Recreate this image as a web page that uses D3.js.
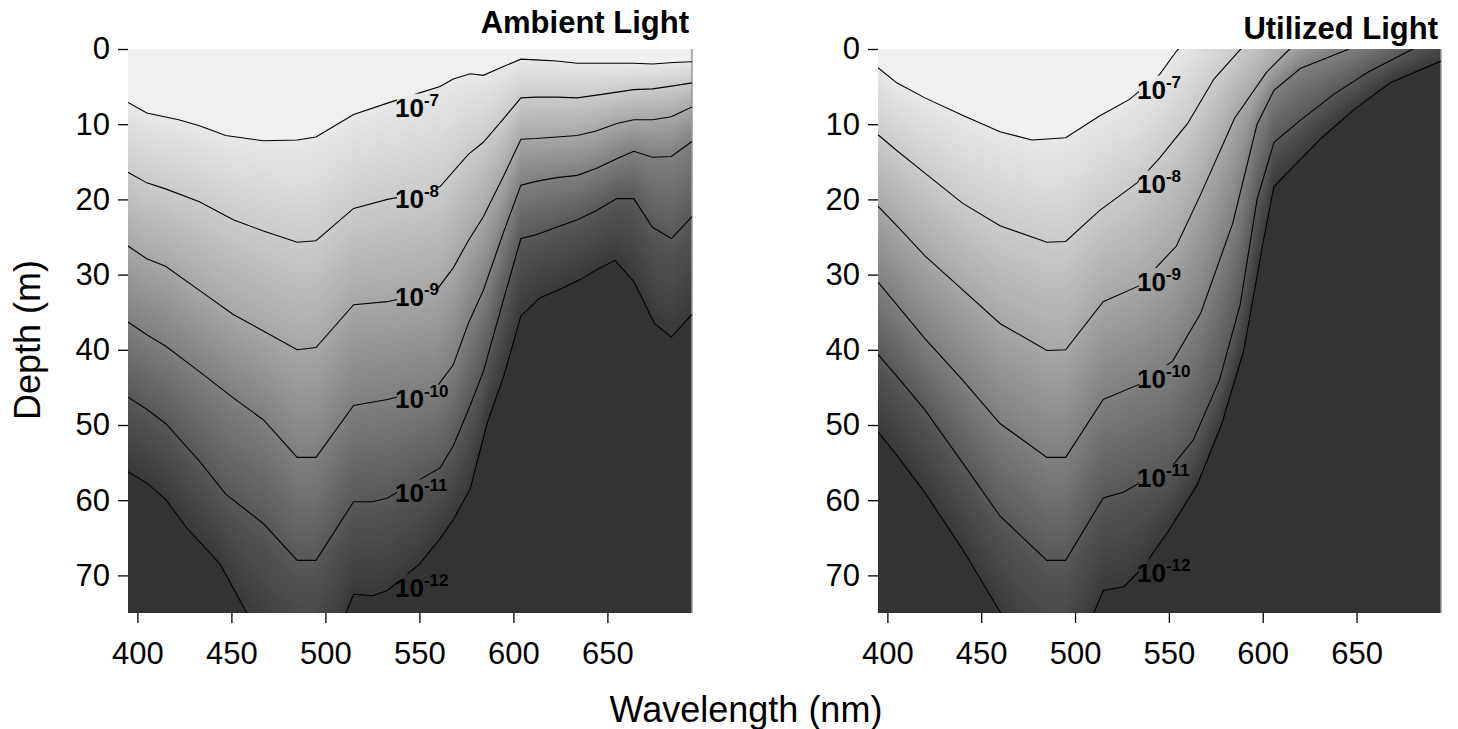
<!DOCTYPE html>
<html>
<head>
<meta charset="utf-8">
<script src="https://cdn.jsdelivr.net/npm/d3@7"></script>
<style>
body { margin: 0; background: #fff; }
text { font-family: "Liberation Sans", Arial, sans-serif; }
</style>
</head>
<body>
<svg id="chart" width="1458" height="729"></svg>
<script>
/*
**************************** DATA ****************************
*/
// contour levels, log10 of irradiance
var levels = [-7, -8, -9, -10, -11, -12];
var xTicks = [400, 450, 500, 550, 600, 650];
var yTicks = [0, 10, 20, 30, 40, 50, 60, 70];

// Ambient light: depth (m) of each contour line, [wavelength nm, depth m]
var amb7 = [[395,7.1],[405,8.5],[422,9.4],[433,10.2],[447,11.5],[467,12.2],[485,12.1],[495,11.7],[515,8.7],[533,7.2],[548,6.0],[561,5.0],[568,4.0],[577,3.3],[584,3.5],[595,2.3],[604,1.35],[612,1.45],[623,1.6],[634,1.9],[648,1.9],[664,1.9],[674,2.0],[685,1.8],[695,1.7]];
var amb8 = [[395,16.4],[405,17.8],[415,18.6],[433,20.3],[451,22.7],[467,24.2],[485,25.7],[495,25.5],[515,21.2],[533,20.0],[548,19.3],[561,18.3],[576,14.0],[584,12.4],[595,9.2],[604,6.5],[612,6.4],[623,6.4],[634,6.5],[648,6.0],[664,5.4],[674,5.3],[685,4.9],[695,4.5]];
var amb9 = [[395,26.2],[405,27.9],[415,28.9],[433,32.1],[451,35.3],[467,37.5],[485,40.0],[495,39.7],[515,34.0],[533,33.6],[559,32.1],[568,29.1],[576,25.5],[584,22.3],[595,16.8],[604,12.0],[612,11.9],[623,11.7],[634,11.5],[644,10.9],[655,9.9],[664,9.4],[674,9.4],[684,9.0],[695,7.7]];
var amb10 = [[395,36.3],[405,38.0],[415,39.5],[433,42.9],[451,46.4],[467,49.3],[485,54.3],[495,54.3],[515,47.4],[533,46.6],[559,45.0],[568,42.0],[576,36.5],[584,32.1],[595,24.2],[604,18.1],[612,17.6],[623,17.1],[634,16.8],[644,15.9],[655,14.6],[664,13.6],[674,14.4],[684,14.3],[695,12.3]];
var amb11 = [[395,46.3],[405,47.9],[415,49.8],[433,54.8],[447,59.2],[467,63.1],[485,68.0],[495,68.0],[515,60.2],[525,60.2],[533,59.7],[561,55.7],[568,52.8],[577,47.4],[584,42.9],[595,33.1],[604,25.2],[612,24.7],[623,23.7],[634,22.7],[644,21.5],[655,19.9],[664,19.9],[674,23.7],[684,25.2],[695,22.3]];
var amb12 = [[395,56.2],[405,57.7],[415,59.9],[426,63.6],[444,68.5],[458,74.9],[470,79],[485,82],[495,82],[505,78],[511,74.9],[515,72.5],[525,72.7],[533,72.0],[550,68.5],[561,65.1],[568,62.6],[577,58.5],[586,49.8],[595,43.4],[604,35.5],[614,33.1],[625,31.9],[636,30.6],[644,29.4],[654,28.1],[664,30.9],[675,36.5],[684,38.3],[695,35.3]];

// Utilized light
var util7 = [[395,2.5],[405,4.5],[420,6.5],[440,8.8],[460,11.0],[477,12.1],[495,11.8],[513,8.9],[529,6.7],[545,3.4],[554,0.3],[570,-4],[600,-10],[695,-25]];
var util8 = [[395,11.4],[405,13.5],[420,16.5],[440,20.5],[460,23.5],[485,25.7],[495,25.6],[513,21.5],[533,17.8],[545,14.5],[560,9.9],[574,4.0],[588,0.1],[610,-5],[695,-20]];
var util9 = [[395,20.9],[405,23.5],[420,27.5],[440,32.0],[460,36.5],[485,40.1],[495,40.0],[515,33.6],[534,31.5],[554,26.2],[567,19.3],[585,9.2],[602,3.1],[614,0.1],[640,-5],[695,-15]];
var util10 = [[395,31.0],[405,34.0],[420,38.5],[440,44.0],[460,49.8],[485,54.3],[495,54.3],[515,46.6],[535,44.5],[552,41.5],[567,35.1],[584,23.2],[597,10.0],[606,5.5],[620,2.6],[645,0.1],[670,-3],[695,-6]];
var util11 = [[395,40.6],[405,43.5],[420,48.0],[440,55.0],[460,62.1],[485,68.0],[495,68.0],[515,59.7],[526,58.9],[535,57.6],[550,56.0],[563,52.0],[577,44.0],[588,34.0],[597,20.0],[606,12.4],[620,9.5],[638,6.0],[656,3.1],[680,0],[695,-2]];
var util12 = [[395,50.9],[405,54.0],[420,59.0],[440,66.5],[458,74.0],[470,79],[485,82],[495,82],[505,78],[510,75],[515,72.0],[526,71.5],[536,69.0],[550,64.0],[565,58.0],[578,50.0],[590,40.0],[600,26.0],[606,18.3],[631,11.9],[649,8.0],[668,4.5],[695,1.6]];

// label anchors (wavelength nm, depth m)
var ambLabelWl = 537, ambLabelDepth = [9.0, 21.2, 34.2, 47.7, 60.3, 72.9];
var utilLabelWl = 533, utilLabelDepth = [6.6, 19.2, 32.2, 45.1, 58.3, 70.9];

/*
**************************** SETUP ****************************
*/
var svg = d3.select("#chart"),
    top0 = 49, bot0 = 613;

var color = d3.scaleLinear()
    .domain(levels)
    .range(["#e8e8e8", "#cbcbcb", "#a7a7a7", "#7f7f7f", "#585858", "#393939"]);

var panels = [
    { id: "amb", title: "Ambient Light", x0: 128, x1: 692, titleY: 33,
      lines: [amb7, amb8, amb9, amb10, amb11, amb12], labWl: ambLabelWl, labD: ambLabelDepth },
    { id: "util", title: "Utilized Light", x0: 878, x1: 1441, titleY: 39,
      lines: [util7, util8, util9, util10, util11, util12], labWl: utilLabelWl, labD: utilLabelDepth }
];

// helper: depth of a contour line at wavelength w
function depthAt(pts, w) {
    if (w <= pts[0][0]) return pts[0][1];
    for (var i = 1; i < pts.length; i++) {
        if (w <= pts[i][0]) {
            var a = pts[i - 1], b = pts[i];
            return a[1] + (b[1] - a[1]) * (w - a[0]) / (b[0] - a[0]);
        }
    }
    return pts[pts.length - 1][1];
}

var wlGrid = d3.range(395, 695.5, 1);
var N = 14; // shades per decade

panels.forEach(function (p) {
    var x = d3.scaleLinear().domain([395, 695]).range([p.x0, p.x1]);
    var y = d3.scaleLinear().domain([0, 75]).range([top0, bot0]);
    var g = svg.append("g");

    g.append("clipPath").attr("id", "clip-" + p.id)
        .append("rect").attr("x", p.x0).attr("y", top0)
        .attr("width", p.x1 - p.x0).attr("height", bot0 - top0);

    var fill = g.append("g").attr("clip-path", "url(#clip-" + p.id + ")");
    fill.append("rect").attr("x", p.x0).attr("y", top0)
        .attr("width", p.x1 - p.x0).attr("height", bot0 - top0)
        .attr("fill", "#f0f0f0");

    // shaded bands, painted from the top down
    for (var k = 0; k < levels.length - 1; k++) {
        for (var j = 0; j < N; j++) {
            (function (k, t, v) {
                var area = d3.area()
                    .x(function (w) { return x(w); })
                    .y0(function (w) {
                        var a = depthAt(p.lines[k], w), b = depthAt(p.lines[k + 1], w);
                        return y(a + (b - a) * t);
                    })
                    .y1(bot0 + 5);
                fill.append("path").datum(wlGrid)
                    .attr("d", area).attr("fill", color(v));
            })(k, j / N, levels[k] - (j + 0.5) / N);
        }
    }
    var lastArea = d3.area()
        .x(function (w) { return x(w); })
        .y0(function (w) { return y(depthAt(p.lines[levels.length - 1], w)); })
        .y1(bot0 + 5);
    fill.append("path").datum(wlGrid).attr("d", lastArea).attr("fill", "#333333");

    // right frame edge
    g.append("line").attr("x1", p.x1).attr("x2", p.x1).attr("y1", top0).attr("y2", bot0)
        .attr("stroke", "#9a9a9a").attr("stroke-width", 1.5);

    // contour labels
    var labG = g.append("g");
    levels.forEach(function (lv, i) {
        var t = labG.append("text")
            .attr("x", x(p.labWl)).attr("y", y(p.labD[i]))
            .attr("font-size", 26).attr("font-weight", "bold").attr("fill", "#000");
        t.append("tspan").text("10");
        t.append("tspan").attr("dy", -11).attr("font-size", 17).text(String(lv));
    });

    // mask out lines under labels
    var mask = g.append("mask").attr("id", "mask-" + p.id);
    mask.append("rect").attr("x", 0).attr("y", 0).attr("width", 1458).attr("height", 729).attr("fill", "#fff");
    labG.selectAll("text").each(function () {
        var bb = this.getBBox();
        mask.append("rect").attr("x", bb.x + 2).attr("y", bb.y + 3)
            .attr("width", bb.width - 4).attr("height", bb.height - 6).attr("fill", "#000");
    });

    var line = d3.line().x(function (d) { return x(d[0]); }).y(function (d) { return y(d[1]); });
    var lineG = g.insert("g", function () { return labG.node(); })
        .attr("clip-path", "url(#clip-" + p.id + ")")
        .append("g").attr("mask", "url(#mask-" + p.id + ")");
    p.lines.forEach(function (pts) {
        lineG.append("path").datum(pts).attr("d", line)
            .attr("fill", "none").attr("stroke", "#000").attr("stroke-width", 1.1);
    });

    // axes
    var xAxis = g.append("g").attr("transform", "translate(0," + bot0 + ")")
        .call(d3.axisBottom(x).tickValues(xTicks).tickSize(10).tickPadding(19));
    var yAxis = g.append("g").attr("transform", "translate(" + p.x0 + ",0)")
        .call(d3.axisLeft(y).tickValues(yTicks).tickSize(10).tickPadding(8));
    [xAxis, yAxis].forEach(function (a) {
        a.select(".domain").remove();
        a.selectAll(".tick line").attr("stroke", "#000").attr("stroke-width", 1.3);
        a.selectAll(".tick text").attr("font-size", 31).attr("fill", "#000")
            .attr("font-family", "Liberation Sans, Arial, sans-serif");
    });

    // panel title
    g.append("text").attr("x", p.x1 - 3).attr("y", p.titleY)
        .attr("text-anchor", "end").attr("font-size", 31).attr("font-weight", "bold")
        .text(p.title);
});

// axis titles
svg.append("text").attr("x", 746).attr("y", 722).attr("text-anchor", "middle")
    .attr("font-size", 36).text("Wavelength (nm)");
svg.append("text").attr("transform", "translate(40,340) rotate(-90)")
    .attr("text-anchor", "middle").attr("font-size", 36).text("Depth (m)");
</script>
</body>
</html>
